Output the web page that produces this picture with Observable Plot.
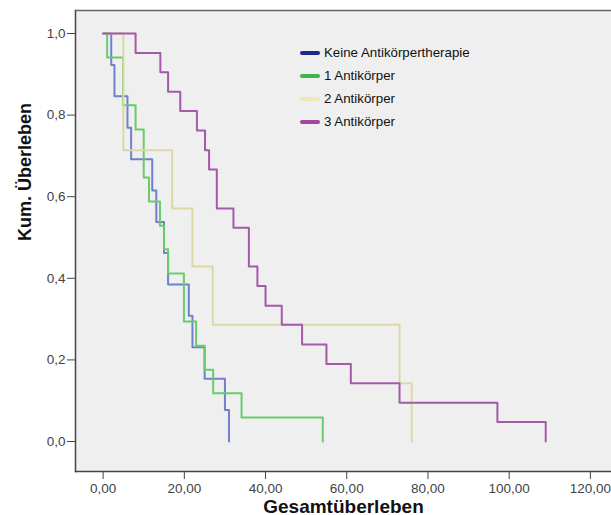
<!DOCTYPE html>
<html>
<head>
<meta charset="utf-8">
<script src="https://cdn.jsdelivr.net/npm/d3@7"></script>
<script src="https://cdn.jsdelivr.net/npm/@observablehq/plot@0.6"></script>
<style>
  html, body { margin: 0; padding: 0; background: #ffffff; }
  #wrap { position: relative; width: 611px; height: 515px; overflow: hidden; }
  #legend { position: absolute; left: 300px; top: 41px; font-family: "Liberation Sans", Arial, sans-serif; font-size: 13.3px; color: #111; }
  #legend .row { display: flex; align-items: center; height: 23px; }
  #legend .sw { width: 20px; height: 4px; border-radius: 2px; margin-right: 4px; }
</style>
</head>
<body>
<div id="wrap"><div id="legend"></div></div>
<script>
// Series names
const seriesNames = ["Keine Antikörpertherapie", "1 Antikörper", "2 Antikörper", "3 Antikörper"];
// Time (Gesamtüberleben) of each step and survival after the step
const keineTime = [0, 2.0, 2.8, 6.0, 6.9, 12.1, 13.1, 15.0, 16.0, 21.1, 22.0, 25.0, 30.0, 31.0];
const keineSurv = [1, 0.923, 0.846, 0.769, 0.692, 0.615, 0.538, 0.462, 0.385, 0.308, 0.231, 0.154, 0.077, 0];
const ak1Time = [0, 1.0, 4.9, 8.0, 10.0, 11.3, 14.0, 15.0, 16.0, 19.9, 22.9, 25.0, 27.1, 34.1, 54.1];
const ak1Surv = [1, 0.941, 0.824, 0.765, 0.647, 0.588, 0.529, 0.471, 0.412, 0.294, 0.235, 0.176, 0.118, 0.059, 0];
const ak2Time = [0, 5.0, 17.0, 22.0, 27.0, 73.0, 76.0];
const ak2Surv = [1, 0.714, 0.571, 0.429, 0.286, 0.143, 0];
const ak3Time = [0, 8.0, 14.1, 16.0, 19.0, 23.1, 25.1, 26.1, 28.0, 32.1, 35.9, 38.0, 40.0, 44.0, 49.0, 55.0, 61.0, 73.0, 97.1, 109.0];
const ak3Surv = [1, 0.952, 0.905, 0.857, 0.810, 0.762, 0.714, 0.667, 0.571, 0.524, 0.429, 0.381, 0.333, 0.286, 0.238, 0.190, 0.143, 0.095, 0.048, 0];
// Axis ticks
const xTicks = [0, 20, 40, 60, 80, 100, 120];
const yTicks = [0, 0.2, 0.4, 0.6, 0.8, 1.0];
const xDomain = [-6.8, 125.2];
const yDomain = [-0.0735, 1.0564];
const lineColors = ["#7080cc", "#68cc6c", "#dcd8a6", "#a35aa8"];
const legendColors = ["#1c2a8c", "#3cb54a", "#efe7b8", "#a045a0"];

const times = [keineTime, ak1Time, ak2Time, ak3Time];
const survs = [keineSurv, ak1Surv, ak2Surv, ak3Surv];
const rows = [];
seriesNames.forEach((name, i) => {
  times[i].forEach((t, j) => rows.push({group: name, t, s: survs[i][j]}));
});

const fmtX = d3.format(".2f");
const fmtY = d3.format(".1f");

const chart = Plot.plot({
  width: 611,
  height: 515,
  marginLeft: 75,
  marginTop: 10,
  marginBottom: 44,
  marginRight: 0,
  style: {background: "transparent", fontFamily: "Liberation Sans, Arial, sans-serif", fontSize: "13.5px", color: "#444"},
  x: {domain: xDomain, ticks: xTicks, tickFormat: d => fmtX(d).replace(".", ","), tickSize: 8, tickPadding: 4, label: null},
  y: {domain: yDomain, ticks: yTicks, tickFormat: d => fmtY(d).replace(".", ","), tickSize: 8, tickPadding: 2, label: null},
  color: {domain: seriesNames, range: lineColors},
  marks: [
    Plot.frame({fill: "#efefef", stroke: null}),
    Plot.line(rows, {x: "t", y: "s", z: "group", stroke: "group", curve: "step-after", strokeWidth: 2}),
    Plot.frame({anchor: "left", stroke: "#444", strokeWidth: 1.5}),
    Plot.frame({anchor: "top", stroke: "#666", strokeWidth: 1.5}),
    Plot.frame({anchor: "bottom", stroke: "#444", strokeWidth: 1.5}),
    Plot.text(["Gesamtüberleben"], {frameAnchor: "bottom", dy: 41, fontWeight: "bold", fontSize: 19, fill: "#111"}),
    Plot.text(["Kum. Überleben"], {frameAnchor: "left", dx: -50, rotate: -90, fontWeight: "bold", fontSize: 18, fill: "#111"})
  ]
});
const wrap = document.getElementById("wrap");
wrap.insertBefore(chart, wrap.firstChild);

const legend = document.getElementById("legend");
seriesNames.forEach((name, i) => {
  const row = document.createElement("div");
  row.className = "row";
  const sw = document.createElement("div");
  sw.className = "sw";
  sw.style.background = legendColors[i];
  const lab = document.createElement("span");
  lab.textContent = name;
  row.appendChild(sw);
  row.appendChild(lab);
  legend.appendChild(row);
});
</script>
</body>
</html>
